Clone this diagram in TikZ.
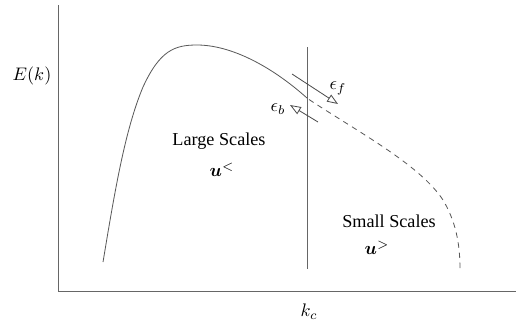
\documentclass[tikz,border=0pt]{standalone}
\usepackage{amsmath}
\usepackage{bm}
\usepackage{fontspec}
\setmainfont{Liberation Serif}
\usetikzlibrary{arrows.meta}
\begin{document}
\begin{tikzpicture}[x=0.55pt,y=-0.55pt,
  axis/.style={draw=black!60,line width=0.5pt},
  curve/.style={draw=black!65,line width=0.45pt},
  flux/.style={draw=black!70,line width=0.45pt,-{Triangle[open,length=6pt,width=4.5pt]}},
  lbl/.style={inner sep=0pt,font=\fontsize{10}{12}\selectfont}]
\useasboundingbox (0,0) rectangle (516,323);
% axes
\coordinate (otop) at (58,5);
\coordinate (orig) at (58,291);
\coordinate (xend) at (516,291);
\draw[axis] (otop) -- (orig) -- (xend);
% cut-off line
\coordinate (ctop) at (307,47);
\coordinate (cbot) at (307,269);
\draw[axis] (ctop) -- (cbot);
% spectrum
\draw[curve] (103,262) .. controls (115,190) and (125,130) .. (143,87)
  .. controls (160,50) and (175,45) .. (197,45)
  .. controls (230,45) and (270,65) .. (307,98);
\draw[curve,dash pattern=on 3pt off 2.6pt] (309,99.5) .. controls (360,133) and (420,165) .. (443,200)
  .. controls (458,225) and (460,250) .. (460,270);
% flux arrows
\coordinate (fa) at (292,74);
\coordinate (fb) at (338,104);
\coordinate (ba) at (318,122);
\coordinate (bb) at (290,105);
\draw[flux] (fa) -- (fb);
\draw[flux] (ba) -- (bb);
% labels
\node[lbl] (Ek) at (32,76) {$E(k)$};
\node[lbl] (kc) at (309,312) {$k_c$};
\node[lbl] (ef) at (338,88) {$\epsilon_f$};
\node[lbl] (eb) at (278,109) {$\epsilon_b$};
\node[lbl] (ls) at (219,141) {Large Scales};
\node[lbl] (ul) at (222,170) {$\bm{u}^<$};
\node[lbl] (ss) at (389,221) {Small Scales};
\node[lbl] (us) at (377,248) {$\bm{u}^>$};
\end{tikzpicture}
\end{document}
